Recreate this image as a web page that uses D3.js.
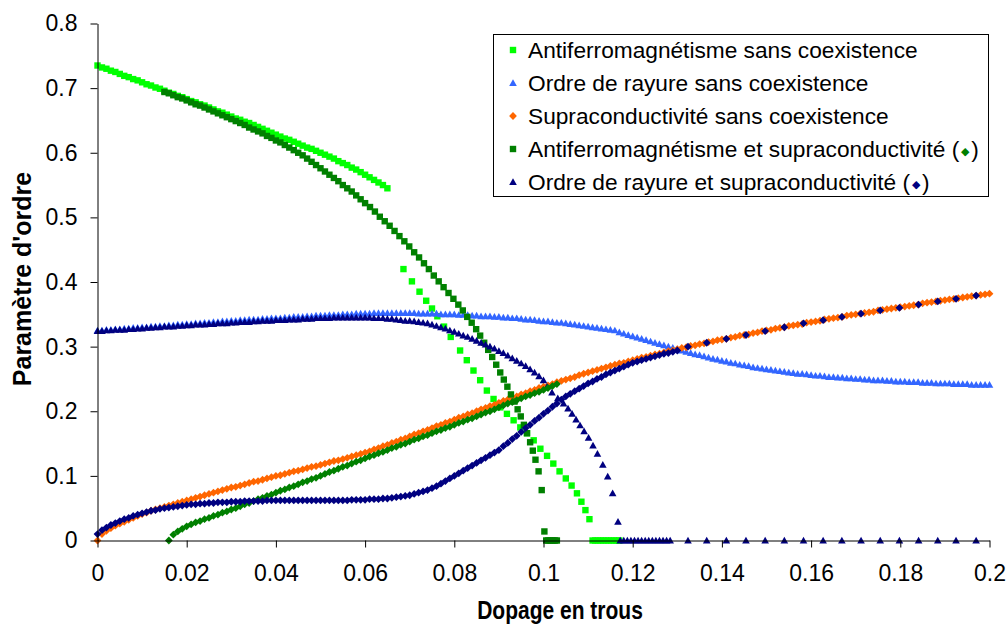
<!DOCTYPE html>
<html>
<head>
<meta charset="utf-8">
<script src="https://cdn.jsdelivr.net/npm/d3@7"></script>
<style>
  body { margin: 0; background: #fff; }
  svg { display: block; }
  text { font-family: "Liberation Sans", Arial, sans-serif; }
</style>
</head>
<body>
<svg id="chart" width="1008" height="624"></svg>
<script>
// Dopage (grille régulière des calculs)
const dopage = [
  0,.001,.002,.003,.004,.005,.006,.007,.008,.009,
  .010,.011,.012,.013,.014,.015,.016,.017,.018,.019,
  .020,.021,.022,.023,.024,.025,.026,.027,.028,.029,
  .030,.031,.032,.033,.034,.035,.036,.037,.038,.039,
  .040,.041,.042,.043,.044,.045,.046,.047,.048,.049,
  .050,.051,.052,.053,.054,.055,.056,.057,.058,.059,
  .060,.061,.062,.063,.064,.065,.066,.067,.068,.069,
  .070,.071,.072,.073,.074,.075,.076,.077,.078,.079,
  .080,.081,.082,.083,.084,.085,.086,.087,.088,.089,
  .090,.091,.092,.093,.094,.095,.096,.097,.098,.099,
  .100,.101,.102,.103,.104,.105,.106,.107,.108,.109,
  .110,.111,.112,.113,.114,.115,.116,.117,.118,.119,
  .120,.121,.122,.123,.124,.125,.126,.127,.128,.129,
  .130,.131,.132,.133,.134,.135,.136,.137,.138,.139,
  .140,.141,.142,.143,.144,.145,.146,.147,.148,.149,
  .150,.151,.152,.153,.154,.155,.156,.157,.158,.159,
  .160,.161,.162,.163,.164,.165,.166,.167,.168,.169,
  .170,.171,.172,.173,.174,.175,.176,.177,.178,.179,
  .180,.181,.182,.183,.184,.185,.186,.187,.188,.189,
  .190,.191,.192,.193,.194,.195,.196,.197,.198,.199,
  .200
];

// Antiferromagnétisme sans coexistence : branche continue (0 à 0.065)
const afSeul = [
  .735,.732,.730,.727,.725,.722,.719,.717,.714,.712,
  .709,.706,.704,.701,.699,.696,.693,.691,.688,.686,
  .683,.680,.678,.675,.673,.670,.667,.664,.662,.659,
  .656,.653,.651,.648,.646,.643,.640,.637,.634,.631,
  .628,.625,.622,.620,.617,.614,.611,.608,.606,.603,
  .600,.597,.594,.591,.587,.584,.581,.577,.574,.570,
  .566,.562,.558,.554,.550,.545
];
// ... puis la chute après le saut, et les zéros
const afSeulFin = [
  [.0686,.420],[.0705,.401],[.0722,.385],[.0737,.371],[.0750,.359],[.0762,.347],
  [.0777,.331],[.0792,.315],[.0813,.294],[.0828,.279],[.0843,.263],[.0858,.248],
  [.0873,.232],[.0888,.219],[.0903,.206],[.0918,.196],[.0933,.186],[.0948,.175],
  [.0963,.166],[.0978,.155],[.0993,.142],[.1008,.131],[.1022,.119],[.1036,.107],
  [.1050,.096],[.1063,.085],[.1075,.073],[.1085,.060],[.1094,.047],[.1103,.033],
  [.1110,0],[.1116,0],[.1122,0],[.1128,0],[.1134,0],[.1140,0],[.1146,0],
  [.1152,0],[.1158,0],[.1164,0],[.1170,0]
];

// Ordre de rayure sans coexistence
const rayureSeule = [
  .325,.325,.326,.326,.327,.327,.328,.328,.329,.329,
  .330,.330,.331,.331,.332,.332,.333,.333,.334,.334,
  .335,.335,.336,.336,.337,.337,.338,.338,.339,.339,
  .340,.340,.341,.341,.342,.342,.342,.343,.343,.344,
  .344,.344,.345,.345,.346,.346,.346,.347,.347,.348,
  .348,.348,.349,.349,.349,.350,.350,.350,.351,.351,
  .351,.351,.352,.352,.352,.352,.352,.352,.352,.352,
  .352,.352,.351,.351,.351,.351,.351,.350,.350,.350,
  .350,.349,.349,.349,.348,.348,.347,.347,.347,.346,
  .346,.345,.345,.344,.344,.343,.342,.342,.341,.340,
  .339,.339,.338,.337,.337,.336,.335,.334,.333,.332,
  .331,.330,.329,.328,.327,.326,.325,.322,.320,.318,
  .316,.314,.312,.310,.308,.306,.304,.302,.300,.298,
  .296,.294,.292,.290,.288,.287,.285,.283,.281,.280,
  .278,.277,.275,.274,.272,.271,.270,.268,.267,.266,
  .265,.264,.263,.262,.261,.260,.259,.258,.258,.257,
  .256,.255,.255,.254,.253,.253,.252,.252,.251,.251,
  .250,.250,.249,.249,.248,.248,.248,.247,.247,.246,
  .246,.246,.245,.245,.245,.244,.244,.244,.243,.243,
  .243,.243,.242,.242,.242,.242,.241,.241,.241,.241,
  .241
];

// Supraconductivité sans coexistence
const supraSeule = [
  .000,.010,.015,.019,.023,.026,.029,.032,.035,.038,
  .041,.043,.046,.048,.050,.052,.054,.056,.058,.060,
  .062,.064,.066,.068,.070,.072,.074,.076,.078,.080,
  .082,.083,.085,.087,.089,.091,.092,.094,.096,.098,
  .100,.101,.103,.105,.107,.108,.110,.112,.114,.115,
  .117,.119,.121,.123,.124,.126,.128,.130,.132,.134,
  .136,.138,.141,.143,.146,.148,.151,.153,.156,.158,
  .161,.164,.166,.169,.171,.174,.177,.179,.182,.184,
  .187,.190,.192,.195,.197,.200,.203,.205,.208,.210,
  .213,.216,.218,.221,.223,.226,.228,.231,.233,.236,
  .238,.240,.242,.245,.247,.249,.251,.253,.256,.258,
  .260,.262,.264,.266,.268,.270,.272,.274,.275,.277,
  .279,.281,.283,.284,.286,.288,.289,.291,.293,.294,
  .296,.298,.299,.301,.302,.304,.305,.307,.308,.310,
  .311,.312,.314,.315,.317,.318,.319,.321,.322,.324,
  .325,.326,.328,.329,.330,.332,.333,.334,.335,.337,
  .338,.339,.340,.342,.343,.344,.345,.346,.348,.349,
  .350,.351,.352,.353,.354,.356,.357,.358,.359,.360,
  .361,.362,.363,.364,.365,.367,.368,.369,.370,.371,
  .372,.373,.374,.375,.376,.377,.378,.379,.380,.381,
  .382
];

// Antiferromagnétisme en coexistence avec la supraconductivité (dès 0.015)
const afCoex = [
  .694,.692,.689,.686,.684,
  .681,.678,.675,.673,.670,.667,.664,.661,.658,.655,
  .652,.649,.646,.643,.639,.636,.633,.630,.626,.623,
  .619,.616,.612,.608,.604,.600,.596,.591,.586,.581,
  .576,.571,.566,.561,.556,.550,.545,.540,.534,.528,
  .522
];
const afCoexFin = [
  [.0611,.516],[.0622,.509],[.0633,.501],[.0644,.494],[.0655,.487],[.0666,.479],
  [.0677,.471],[.0688,.463],[.0699,.455],[.0710,.446],[.0721,.438],[.0732,.429],
  [.0743,.420],[.0754,.410],[.0765,.401],[.0776,.392],[.0787,.383],[.0798,.374],
  [.0809,.365],[.0819,.356],[.0829,.346],[.0839,.337],[.0849,.327],[.0858,.317],
  [.0867,.306],[.0876,.295],[.0885,.284],[.0894,.272],[.0903,.260],[.0911,.249],
  [.0919,.238],[.0927,.226],[.0935,.215],[.0942,.203],[.0949,.192],[.0956,.179],
  [.0963,.166],[.0970,.152],[.0976,.139],[.0982,.125],[.0989,.107],[.0996,.078],
  [.1002,.014],
  [.1006,0],[.1010,0],[.1014,0],[.1018,0],[.1022,0],[.1026,0],[.1030,0]
];

// Supraconductivité en coexistence avec l'antiferromagnétisme (dès 0.016)
const supraAf = [
  .000,.009,.014,.018,
  .022,.025,.028,.030,.033,.035,.038,.040,.043,.045,
  .048,.050,.053,.056,.058,.061,.064,.066,.069,.071,
  .074,.077,.079,.082,.084,.087,.090,.092,.095,.097,
  .100,.103,.106,.108,.111,.114,.116,.119,.122,.124,
  .127,.130,.132,.135,.137,.140,.143,.145,.148,.150,
  .153,.156,.158,.161,.163,.166,.169,.171,.174,.176,
  .179,.182,.184,.187,.189,.192,.195,.198,.200,.203,
  .206,.209,.212,.214,.217,.220,.223,.225,.228,.230,
  .233,.236,.239,.242
];

// Ordre de rayure en coexistence avec la supraconductivité
const rayureCoex = [
  .324,.324,.325,.325,.326,.326,.326,.327,.327,.328,
  .328,.329,.329,.330,.330,.331,.331,.331,.332,.332,
  .333,.333,.334,.334,.334,.335,.335,.336,.336,.336,
  .337,.337,.338,.338,.338,.339,.339,.340,.340,.340,
  .341,.341,.341,.342,.342,.342,.343,.343,.343,.344,
  .344,.344,.344,.345,.345,.345,.345,.345,.345,.345,
  .345,.345,.344,.344,.344,.343,.343,.342,.341,.340,
  .340,.339,.338,.337,.336,.334,.332,.330,.328,.325,
  .323,.320,.317,.315,.312,.309,.306,.303,.300,.297,
  .293,.290,.286,.282,.278,.274,.270,.265,.260,.254,
  .248
];
const rayureCoexFin = [
  [.1008,.238],[.1019,.229],[.1032,.220],[.1045,.212],[.1055,.204],[.1064,.196],
  [.1073,.187],[.1082,.178],[.1091,.169],[.1101,.159],[.1111,.147],[.1121,.134],
  [.1133,.117],[.1144,.099],[.1155,.073],[.1167,.029],
  [.1172,0],[.1180,0],[.1188,0],[.1196,0],[.1204,0],[.1212,0],[.1220,0],[.1228,0],
  [.1236,0],[.1244,0],[.1252,0],[.1260,0],[.1268,0],[.1276,0],[.1284,0]
];

// Supraconductivité en coexistence avec l'ordre de rayure
const supraRayure = [
  .010,.016,.020,.024,.027,.030,.033,.035,.038,.040,
  .042,.044,.046,.047,.049,.050,.051,.052,.053,.054,
  .055,.056,.056,.057,.057,.058,.058,.059,.059,.059,
  .060,.060,.060,.061,.061,.061,.061,.061,.062,.062,
  .062,.062,.062,.062,.062,.062,.062,.062,.062,.062,
  .062,.062,.062,.062,.062,.062,.062,.063,.063,.063,
  .063,.064,.064,.064,.065,.065,.066,.067,.068,.069,
  .070,.072,.074,.076,.078,.081,.084,.088,.092,.096,
  .100,.104,.108,.112,.116,.120,.124,.128,.132,.136,
  .140,.146,.151,.157,.162,.168,.174,.179,.185,.190,
  .196,.201,.207,.212,.218,.223,.227,.231,.235,.239,
  .243,.246,.250,.253,.257,.260,.263,.266,.269,.272,
  .275,.277,.279,.281,.283,.285,.287,.289,.290,.292,
  .294
];

// Points plus espacés au-delà de 0.13 (rayure nulle, supraconductivité seule)
const dopageEpars = [.1324,.1366,.1410,.1454,.1497,.1540,.1583,.1627,.1669,.1712,.1755,.1798,.1841,.1884,.1925,.1970];
const rayureCoexEpars = [0,0,0,0,0,0,0,0,0,0,0,0,0,0,0,0];
const supraRayureEpars = [.300,.306,.312,.318,.324,.330,.336,.341,.346,.351,.356,.360,.365,.370,.374,.379];

// Axes
const xTicks = [0,.02,.04,.06,.08,.1,.12,.14,.16,.18,.2];
const xTickLabels = ["0","0.02","0.04","0.06","0.08","0.1","0.12","0.14","0.16","0.18","0.2"];
const yTicks = [0,.1,.2,.3,.4,.5,.6,.7,.8];
const yTickLabels = ["0","0.1","0.2","0.3","0.4","0.5","0.6","0.7","0.8"];

const legendLabels = [
  "Antiferromagnétisme sans coexistence",
  "Ordre de rayure sans coexistence",
  "Supraconductivité sans coexistence",
  "Antiferromagnétisme et supraconductivité (",
  "Ordre de rayure et supraconductivité ("
];

const formes = {
  carre: "M-3.2,-3.2H3.2V3.2H-3.2Z",
  triangle: "M0,-3.8L3.8,2.9L-3.8,2.9Z",
  losange: "M0,-3.9L3.9,0L0,3.9L-3.9,0Z"
};

const police = '"Liberation Sans", Arial, sans-serif';
const svg = d3.select("#chart");
const x = d3.scaleLinear().domain([0, 0.2]).range([97.5, 989.5]);
const y = d3.scaleLinear().domain([0, 0.8]).range([540.5, 23.5]);

// Séries, dans l'ordre de tracé
const series = [
  { couleur: "#00FF00", forme: "carre",    points: d3.zip(dopage, afSeul).concat(afSeulFin) },
  { couleur: "#3366FF", forme: "triangle", points: d3.zip(dopage, rayureSeule) },
  { couleur: "#FF6600", forme: "losange",  points: d3.zip(dopage, supraSeule) },
  { couleur: "#008000", forme: "carre",    points: d3.zip(dopage.slice(15), afCoex).concat(afCoexFin) },
  { couleur: "#000080", forme: "triangle", points: d3.zip(dopage, rayureCoex).concat(rayureCoexFin, d3.zip(dopageEpars, rayureCoexEpars)) },
  { couleur: "#008000", forme: "losange",  points: d3.zip(dopage.slice(16), supraAf) },
  { couleur: "#000080", forme: "losange",  points: d3.zip(dopage, supraRayure).concat(d3.zip(dopageEpars, supraRayureEpars)) }
];

const trace = svg.append("g");
series.forEach(s => {
  trace.append("g")
    .selectAll("path")
    .data(s.points)
    .join("path")
    .attr("d", formes[s.forme])
    .attr("transform", d => `translate(${x(d[0])},${y(d[1])})`)
    .attr("fill", s.couleur);
});

// Axe vertical
const axeY = svg.append("g")
  .attr("transform", `translate(${x(0)},0)`)
  .call(d3.axisLeft(y).tickValues(yTicks).tickFormat((d, i) => yTickLabels[i]).tickSize(7).tickSizeOuter(0).tickPadding(13));
axeY.selectAll("path, line").attr("stroke", "#000");
axeY.selectAll("text").attr("font-size", 23).attr("fill", "#000").style("font-family", police);

// Axe horizontal
const axeX = svg.append("g")
  .attr("transform", `translate(0,${y(0)})`)
  .call(d3.axisBottom(x).tickValues(xTicks).tickFormat((d, i) => xTickLabels[i]).tickSize(7).tickSizeOuter(0).tickPadding(17));
axeX.selectAll("path, line").attr("stroke", "#000");
axeX.selectAll("text").attr("font-size", 23).attr("fill", "#000").style("font-family", police);

// Titres des axes
svg.append("text")
  .attr("transform", "translate(31,279) rotate(-90)")
  .attr("text-anchor", "middle")
  .attr("font-size", 25).attr("font-weight", "bold")
  .text("Paramètre d'ordre");
svg.append("g")
  .attr("transform", "translate(560,619) scale(1,1.2)")
  .append("text")
  .attr("text-anchor", "middle")
  .attr("font-size", 21).attr("font-weight", "bold")
  .text("Dopage en trous");

// Légende
const legende = svg.append("g");
legende.append("rect")
  .attr("x", 493.5).attr("y", 34.5).attr("width", 495).attr("height", 162)
  .attr("fill", "#fff").attr("stroke", "#000");
const entrees = [0, 1, 2, 3, 4].map(i => ({
  texte: legendLabels[i],
  couleur: series[i].couleur,
  forme: series[i].forme,
  losange: i === 3 ? series[5].couleur : i === 4 ? series[6].couleur : null
}));
entrees.forEach((e, i) => {
  const cy = 50 + i * 33;
  legende.append("path")
    .attr("d", formes[e.forme])
    .attr("transform", `translate(513,${cy})`)
    .attr("fill", e.couleur);
  const t = legende.append("text")
    .attr("x", 528).attr("y", cy).attr("dy", "0.36em")
    .attr("font-size", 22.7).attr("fill", "#000")
    .text(e.texte);
  if (e.losange) {
    t.append("tspan").attr("fill", e.losange).attr("font-size", 11).attr("dx", 2).attr("dy", "-0.2em").text("◆");
    t.append("tspan").attr("dx", 2).attr("dy", "0.1em").text(")");
  }
});
</script>
</body>
</html>
